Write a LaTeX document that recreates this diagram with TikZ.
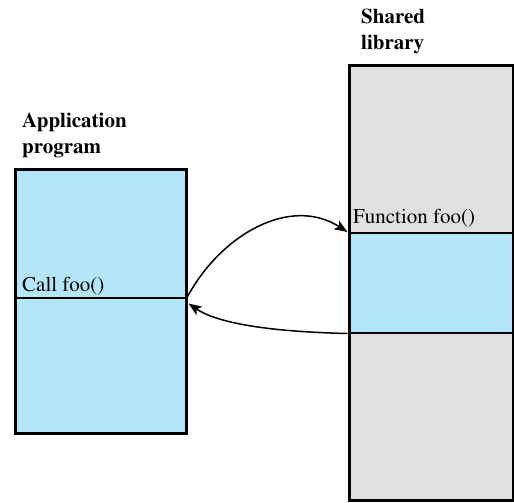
\documentclass[tikz,border=0pt]{standalone}
\usepackage[T1]{fontenc}
\usepackage{times}
\usetikzlibrary{arrows.meta}
\definecolor{memblue}{RGB}{178,230,248}
\definecolor{memgray}{RGB}{224,224,224}
\tikzset{
  seg/.style={draw, line width=1.5pt, inner sep=0pt, minimum width=#1},
  outer/.style={draw, line width=3pt, inner sep=0pt},
  lbl/.style={inner sep=0pt, font=\fontsize{21pt}{26pt}\selectfont},
  ttl/.style={inner sep=0pt, align=left, font=\bfseries\fontsize{21pt}{26pt}\selectfont},
  flow/.style={line width=1.5pt, -{Stealth[length=13pt,width=10pt,inset=3pt]}}
}
\begin{document}
\begin{tikzpicture}[x=1pt,y=-1pt]
\useasboundingbox (0,0) rectangle (514,503);
% application program
\node[seg=171pt, fill=memblue, minimum height=129pt, anchor=north west] (apptop) at (14,168) {};
\node[seg=171pt, fill=memblue, minimum height=135pt, anchor=north west] (appbot) at (14,297) {};
\node[outer, minimum width=171pt, minimum height=264pt, anchor=north west] (app) at (14,168) {};
% shared library
\node[seg=164pt, fill=memgray, minimum height=168pt, anchor=north west] (libtop) at (347.5,64) {};
\node[seg=164pt, fill=memblue, minimum height=100pt, anchor=north west] (band) at (347.5,232) {};
\node[seg=164pt, fill=memgray, minimum height=167pt, anchor=north west] (libbot) at (347.5,332) {};
\node[outer, minimum width=164pt, minimum height=435pt, anchor=north west] (lib) at (347.5,64) {};
% labels
\node[ttl, anchor=base west] (apptitle) at (22,153) {Application\\program};
\node[ttl, anchor=base west] (libtitle) at (361,50) {Shared\\library};
\node[lbl, anchor=base west] (call) at (22,291) {Call foo()};
\node[lbl, anchor=base west] (func) at (353,223) {Function foo()};
% connectors
\draw[flow] (apptop.south east) .. controls (220,235) and (290,195) .. (band.north west);
\draw[flow] (band.south west) .. controls (280,332) and (220,325) .. ([xshift=2pt,yshift=-5pt]apptop.south east);
\end{tikzpicture}
\end{document}
